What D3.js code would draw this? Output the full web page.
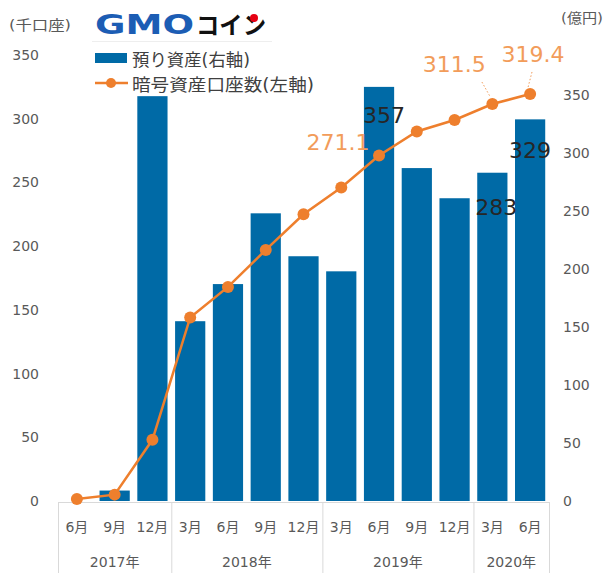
<!DOCTYPE html>
<html>
<head>
<meta charset="utf-8">
<script src="https://cdn.jsdelivr.net/npm/d3@7"></script>
<style>
  body { margin: 0; background: #fff; }
  svg { display: block; font-family: "DejaVu Sans", "Noto Sans CJK JP", sans-serif; }
  .tick-label { fill: #595959; font-size: 14px; }
</style>
</head>
<body>
<svg id="chart" width="604" height="573"></svg>
<script>
// quarter labels along the bottom
const months = ['6月', '9月', '12月', '3月', '6月', '9月', '12月', '3月', '6月', '9月', '12月', '3月', '6月'];
const years = ['2017年', '2018年', '2019年', '2020年'];
const yearSpans = [3, 4, 4, 2];
// 預り資産 (億円, right axis)
const assets = [0, 9, 349, 155, 187, 248, 211, 198, 357, 287, 261, 283, 329];
// 暗号資産口座数 (千口座, left axis)
const accounts = [1.5, 5, 48, 144, 168, 197, 225, 246, 271.1, 290, 299, 311.5, 319.4];
const ticks = [0, 50, 100, 150, 200, 250, 300, 350];

const BAR_COLOR = '#006aa6';
const LINE_COLOR = '#ee7f2d';
const LABEL_ORANGE = '#f29c5a';

const svg = d3.select('#chart');
const keys = months.map((m, i) => i);

const x = d3.scaleBand().domain(keys).range([58, 549]).paddingInner(0.2).paddingOuter(0.1);
const yLeft = d3.scaleLinear().domain([0, 350]).range([501, 55]);
const yRight = d3.scaleLinear().domain([0, 350]).range([501, 95]);
const cx = i => x(i) + x.bandwidth() / 2;

// axis tick labels
svg.append('g').selectAll('text').data(ticks).join('text')
  .attr('class', 'tick-label')
  .attr('x', 39).attr('y', d => yLeft(d) + 5)
  .attr('text-anchor', 'end')
  .text(d => d);
svg.append('g').selectAll('text').data(ticks).join('text')
  .attr('class', 'tick-label')
  .attr('x', 563).attr('y', d => yRight(d) + 5)
  .text(d => d);
svg.append('text').attr('class', 'tick-label')
  .attr('x', 9).attr('y', 30)
  .attr('textLength', 62).attr('lengthAdjust', 'spacingAndGlyphs')
  .text('(千口座)');
svg.append('text').attr('class', 'tick-label')
  .attr('x', 561).attr('y', 23)
  .attr('textLength', 42).attr('lengthAdjust', 'spacingAndGlyphs')
  .text('(億円)');

// category axis: baseline, group dividers, labels
const [x0, x1] = x.range();
const step = x.step();
const axisG = svg.append('g');
axisG.append('line')
  .attr('x1', x0).attr('x2', x1).attr('y1', 502.5).attr('y2', 502.5)
  .attr('stroke', '#d9d9d9');
let acc = 0;
const bounds = [0];
yearSpans.forEach(s => { acc += s; bounds.push(acc); });
axisG.selectAll('.div').data(bounds).join('line')
  .attr('x1', d => x0 + d * step + 0.5).attr('x2', d => x0 + d * step + 0.5)
  .attr('y1', 502).attr('y2', 573)
  .attr('stroke', '#d9d9d9');
axisG.selectAll('.month').data(months).join('text')
  .attr('class', 'tick-label')
  .attr('x', (d, i) => cx(i)).attr('y', 532)
  .attr('text-anchor', 'middle')
  .text(d => d);
axisG.selectAll('.year').data(years).join('text')
  .attr('class', 'tick-label')
  .attr('x', (d, i) => x0 + (bounds[i] + bounds[i + 1]) / 2 * step)
  .attr('y', 567)
  .attr('text-anchor', 'middle')
  .text(d => d);

// bars
svg.append('g').selectAll('rect').data(assets).join('rect')
  .attr('x', (d, i) => x(i))
  .attr('y', d => yRight(d))
  .attr('width', x.bandwidth())
  .attr('height', d => yRight(0) - yRight(d))
  .attr('fill', BAR_COLOR);

// bar value labels
const barLabels = [
  { i: 8, dx: 5, dy: 36 },
  { i: 11, dx: 4, dy: 42 },
  { i: 12, dx: 0, dy: 39 }
];
svg.append('g').selectAll('text').data(barLabels).join('text')
  .attr('x', d => cx(d.i) + d.dx)
  .attr('y', d => yRight(assets[d.i]) + d.dy)
  .attr('text-anchor', 'middle')
  .attr('font-size', 22)
  .attr('fill', '#262626')
  .text(d => assets[d.i]);

// line + markers
const line = d3.line().x((d, i) => cx(i)).y(d => yLeft(d));
svg.append('path').datum(accounts)
  .attr('d', line)
  .attr('fill', 'none')
  .attr('stroke', LINE_COLOR)
  .attr('stroke-width', 2.5);
svg.append('g').selectAll('circle').data(accounts).join('circle')
  .attr('cx', (d, i) => cx(i))
  .attr('cy', d => yLeft(d))
  .attr('r', 6)
  .attr('fill', LINE_COLOR);

// line value labels, two with dotted leaders
const lineLabels = [
  { i: 8, dx: -41, dy: -6, leader: false },
  { i: 11, dx: -38, dy: -32, leader: true },
  { i: 12, dx: 3, dy: -32, leader: true }
];
const ll = svg.append('g');
lineLabels.filter(d => d.leader).forEach(d => {
  const px = cx(d.i), py = yLeft(accounts[d.i]);
  ll.append('line')
    .attr('x1', px + d.dx * 0.3 + 1).attr('y1', py + d.dy + 10)
    .attr('x2', px - 2).attr('y2', py - 7)
    .attr('stroke', LABEL_ORANGE)
    .attr('stroke-dasharray', '1.5,2');
});
ll.selectAll('text').data(lineLabels).join('text')
  .attr('x', d => cx(d.i) + d.dx)
  .attr('y', d => yLeft(accounts[d.i]) + d.dy)
  .attr('text-anchor', 'middle')
  .attr('font-size', 22)
  .attr('fill', LABEL_ORANGE)
  .text(d => d3.format('.1f')(accounts[d.i]));

// legend
const lg = svg.append('g');
lg.append('rect').attr('x', 95).attr('y', 53).attr('width', 32).attr('height', 10).attr('fill', BAR_COLOR);
lg.append('text').attr('x', 132).attr('y', 66).attr('font-size', 17).attr('fill', '#404040')
  .attr('textLength', 118).attr('lengthAdjust', 'spacingAndGlyphs')
  .text('預り資産(右軸)');
lg.append('line').attr('x1', 95).attr('x2', 128).attr('y1', 83).attr('y2', 83)
  .attr('stroke', LINE_COLOR).attr('stroke-width', 2.5);
lg.append('circle').attr('cx', 111).attr('cy', 83).attr('r', 5).attr('fill', LINE_COLOR);
lg.append('text').attr('x', 132).attr('y', 91).attr('font-size', 17).attr('fill', '#404040')
  .attr('textLength', 182).attr('lengthAdjust', 'spacingAndGlyphs')
  .text('暗号資産口座数(左軸)');

// logo
const logo = svg.append('g');
logo.append('line').attr('x1', 92).attr('x2', 272).attr('y1', 41.5).attr('y2', 41.5)
  .attr('stroke', '#eeeeee');
logo.append('text').attr('x', 95).attr('y', 34)
  .attr('font-size', 26).attr('font-weight', 'bold')
  .attr('textLength', 99).attr('lengthAdjust', 'spacingAndGlyphs')
  .attr('fill', '#1c5db4').text('GMO');
logo.append('text').attr('x', 196).attr('y', 34)
  .attr('font-size', 24).attr('font-weight', 'bold')
  .attr('font-family', '"Noto Sans CJK JP", sans-serif')
  .attr('textLength', 70).attr('lengthAdjust', 'spacingAndGlyphs')
  .attr('fill', '#111').text('コイン');
logo.append('circle').attr('cx', 254).attr('cy', 18).attr('r', 4).attr('fill', '#e60012');
</script>
</body>
</html>
